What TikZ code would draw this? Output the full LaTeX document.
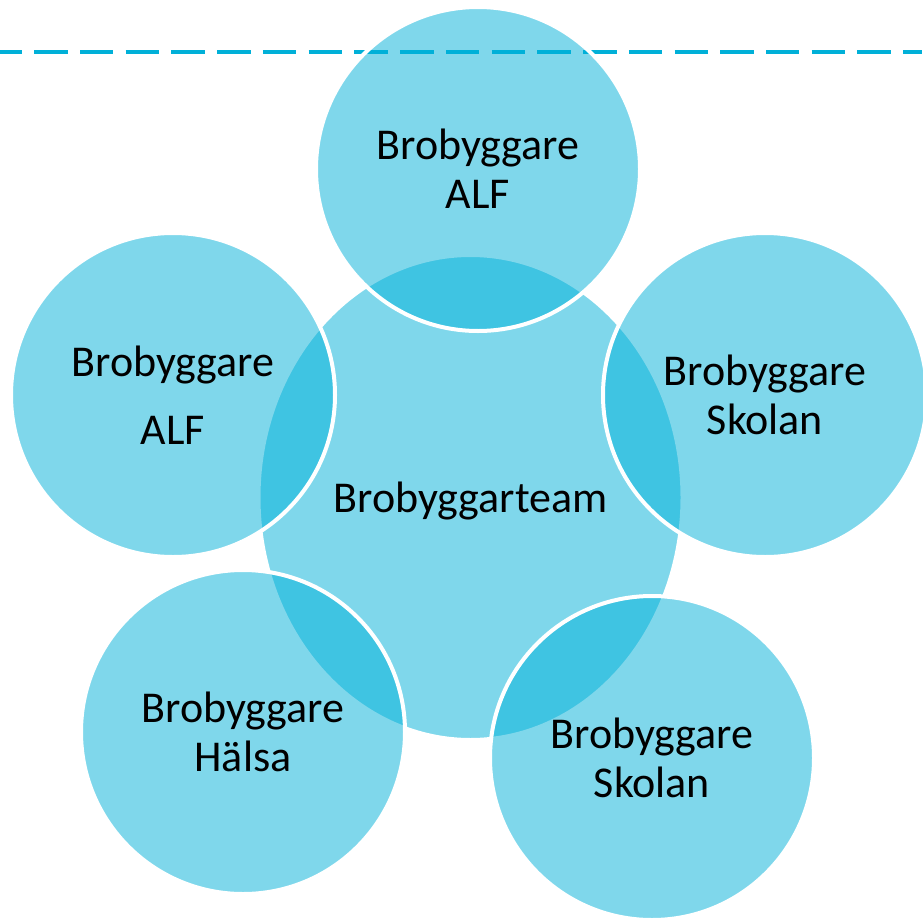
\documentclass[tikz,border=0pt]{standalone}
\usepackage{fontspec}
\setmainfont{Carlito}
\usetikzlibrary{shapes.geometric}
\definecolor{brocyan}{RGB}{0,176,216}

\begin{document}
\begin{tikzpicture}[x=0.75pt, y=-0.75pt,
  bubble/.style={circle, minimum size=243pt, fill=brocyan, fill opacity=0.5,
    text opacity=1, draw=white, draw opacity=1, line width=3pt,
    align=center, text depth=0pt, font=\fontsize{33}{37}\selectfont},
  hub/.style={bubble, ellipse, minimum width=318pt, minimum height=363.75pt}]
\useasboundingbox (0,0) rectangle (922,924);
% dashed rule across the top
\coordinate (dashL) at (0,51.7);
\coordinate (dashR) at (922,51.7);
\draw[brocyan, line width=3pt, dash pattern=on 25.1pt off 9.2pt, dash phase=8.6pt]
  (dashL) -- (dashR);
% centre first, then the five around it
\node[hub] (team) at (470.5,497.5) {Brobyggarteam};
\node[bubble] (alfTop) at (478,169) {Brobyggare\\ALF};
\node[bubble] (alfLeft) at (173,395) {Brobyggare\\[14pt]ALF};
\node[bubble] (skolanRight) at (765,395) {Brobyggare\\Skolan};
\node[bubble] (halsa) at (243,732) {Brobyggare\\Hälsa};
\node[bubble] (skolanBottom) at (652,758) {Brobyggare\\Skolan};
\end{tikzpicture}
\end{document}
